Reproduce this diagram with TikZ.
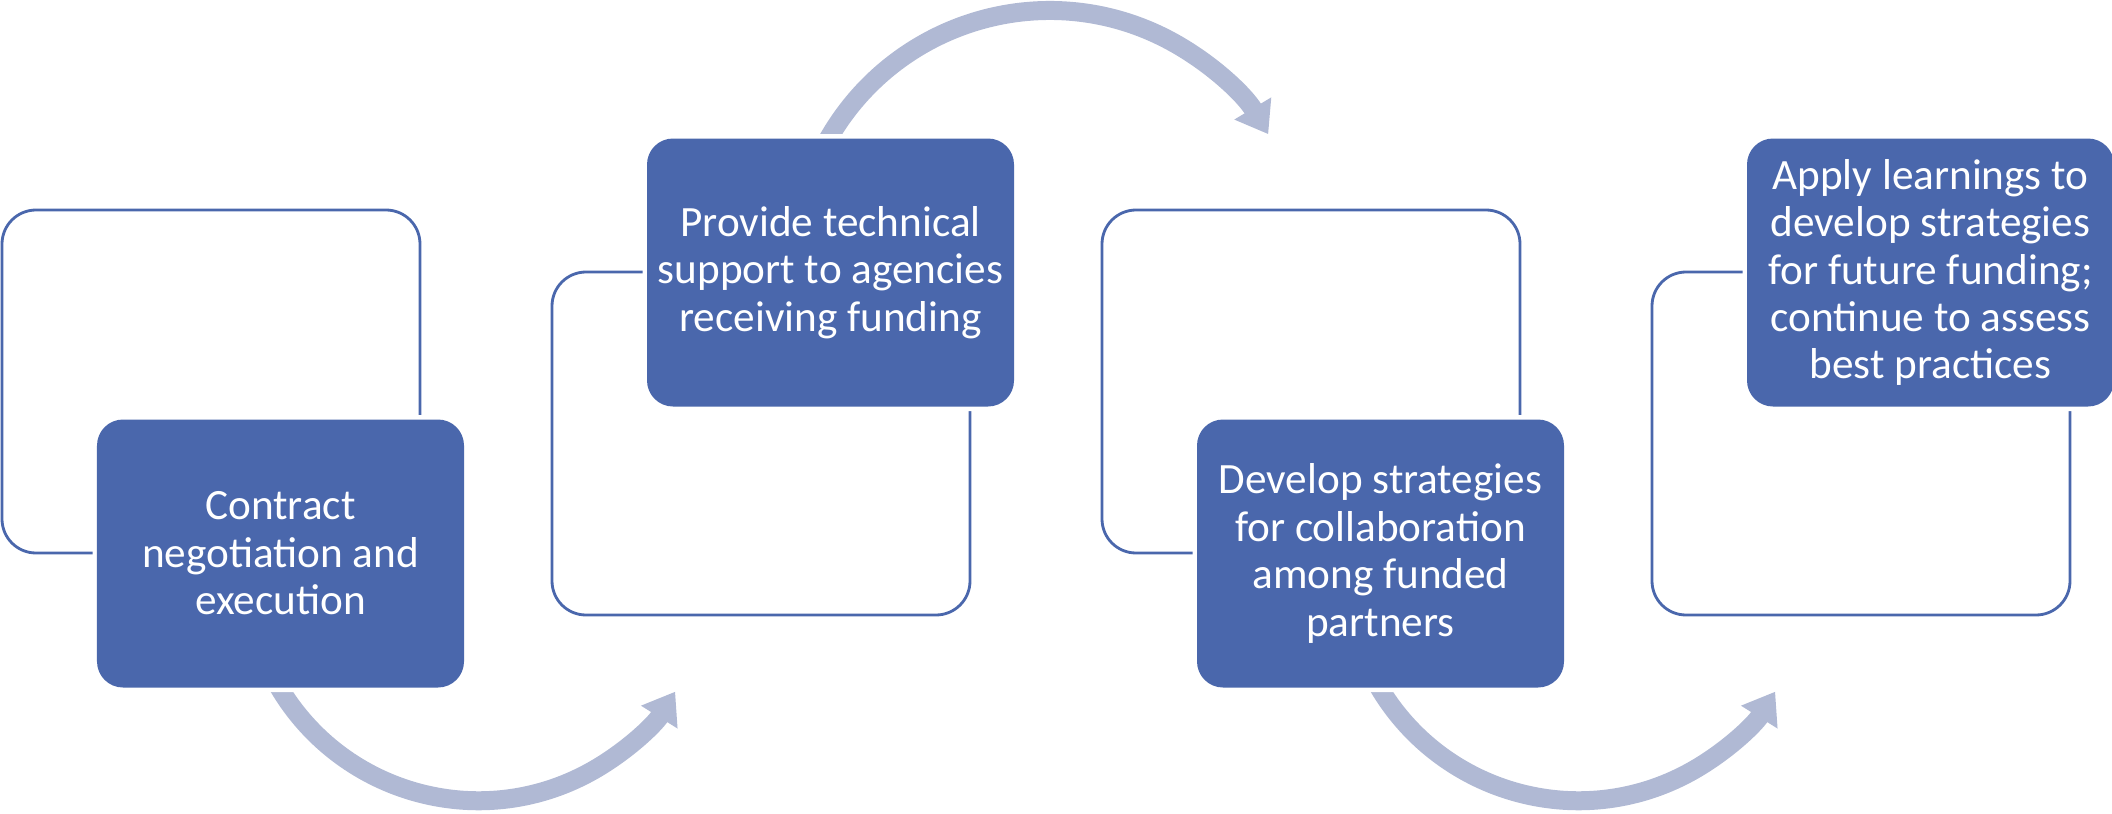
\documentclass[tikz,border=0pt]{standalone}
\usepackage{fontspec}
\setmainfont{Carlito}
\usetikzlibrary{arrows.meta,backgrounds}
\definecolor{stageblue}{RGB}{74,103,172}
\definecolor{arrowgrey}{RGB}{176,185,212}
\tikzset{
  stagebox/.style={rectangle, rounded corners=0.26cm, fill=stageblue, text=white,
    minimum width=3.67cm, minimum height=2.68cm, align=center, inner sep=0pt,
    font=\fontsize{12.3}{13.5}\selectfont,
    preaction={draw=white, line width=0.09cm}},
  backframe/.style={rectangle, rounded corners=0.34cm, draw=stageblue, line width=0.8pt,
    minimum width=4.18cm, minimum height=3.43cm, inner sep=0pt},
  turnarrow/.style={draw=arrowgrey, line width=0.19cm, -{Triangle[length=0.30cm,width=0.41cm]}}
}
\begin{document}
\begin{tikzpicture}
\useasboundingbox (0,0) rectangle (21.12,8.13);
\node[backframe] (frame1) at (2.11,4.315) {};
\node[backframe] (frame2) at (7.61,3.695) {};
\node[backframe] (frame3) at (13.11,4.315) {};
\node[backframe] (frame4) at (18.61,3.695) {};
\node[stagebox] (step1) at (2.805,2.595) {Contract\\negotiation and\\execution};
\node[stagebox] (step2) at (8.305,5.405) {Provide technical\\support to agencies\\receiving funding};
\node[stagebox] (step3) at (13.805,2.595) {Develop strategies\\for collaboration\\among funded\\partners};
\node[stagebox] (step4) at (19.305,5.405) {Apply learnings to\\develop strategies\\for future funding;\\continue to assess\\best practices};
\begin{scope}[on background layer]
\draw[turnarrow] ([xshift=-0.05cm,yshift=0.07cm]step1.south) arc[start angle=209, end angle=328, radius=2.32cm];
\draw[turnarrow] ([xshift=-0.06cm,yshift=-0.08cm]step2.north) arc[start angle=152, end angle=31, radius=2.55cm];
\draw[turnarrow] ([xshift=-0.05cm,yshift=0.07cm]step3.south) arc[start angle=209, end angle=328, radius=2.32cm];
\end{scope}
\end{tikzpicture}
\end{document}
